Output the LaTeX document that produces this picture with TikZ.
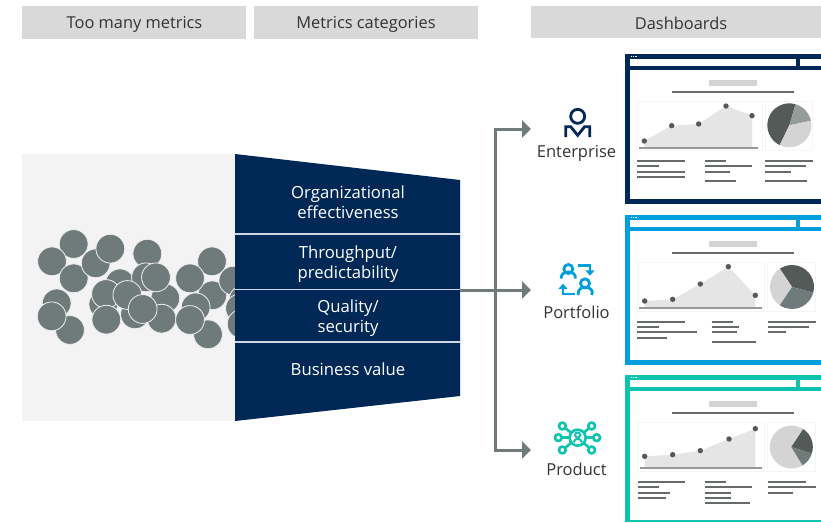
\documentclass[tikz,border=0pt]{standalone}
\usepackage{fontspec}
\setmainfont{Open Sans}
\usetikzlibrary{arrows.meta}
\definecolor{navy}{HTML}{002856}
\definecolor{skyb}{HTML}{009FDB}
\definecolor{teal2}{HTML}{0FC4AE}
\definecolor{hdr}{HTML}{D9D9D9}
\definecolor{pale}{HTML}{F3F3F3}
\definecolor{conn}{HTML}{6F7B7A}
\definecolor{ink}{HTML}{333333}
\definecolor{tline}{HTML}{666B6A}
\definecolor{pdark}{HTML}{545A58}
\definecolor{pmid}{HTML}{6F7B7A}
\definecolor{pmidl}{HTML}{939C99}
\definecolor{plight}{HTML}{D4D4D4}
\tikzset{
  zoomat/.style 2 args={shift={(#1,#2)},x=0.33333pt,y=-0.33333pt},
  hdrbox/.style={fill=hdr,draw=none,inner sep=0,text=ink,font=\fontsize{16.4}{18}\selectfont},
  rowtext/.style={text=white,align=center,font=\fontsize{16.7}{20}\selectfont,inner sep=0},
  lbl/.style={text=ink,font=\fontsize{16.5}{18}\selectfont,inner sep=0},
  divider/.style={draw=white!82!navy,line width=1.4pt},
  connector/.style={draw=conn,line width=3pt},
  connarrow/.style={connector,-{Triangle[length=9pt,width=17pt]}},
  textline/.style={draw=tline,line width=1.8pt},
  blob/.style={fill=conn,draw=white!88!conn,line width=0.8pt},
  panel/.style={draw=black!4,line width=0.6pt,fill=white},
  icon/.style={line width=2.8pt,line cap=butt,line join=miter},
}
\newcommand{\pieslice}[6]{%
  \begin{scope}[shift={(#1,#2)},x=1pt,y=1pt]
    \fill[#6] (0,0) -- (#4:#3) arc[start angle=#4,end angle=#5,radius=#3] -- cycle;
  \end{scope}}
\newcommand{\frameshape}[4]{%
  \fill[#1] (15,#2) rectangle (603,#4);
  \fill[white] (30,#2+17) rectangle (528,#2+36);
  \fill[white] (540,#2+17) rectangle (603,#2+36);
  \fill[white] (29,#2+49) rectangle (603,#3);
  \foreach \d in {32,39,46} \fill[white] (\d,#2+6) rectangle (\d+4,#2+9);
  \fill[plight] (268,#2+80) rectangle (410,#2+97);
  \draw[textline] (156,#2+116) -- (522,#2+116);
}
\newcommand{\chartdots}[1]{\foreach \a/\b in {#1} \fill[pdark] (\a,\b) circle[radius=2.7pt];}
\newcommand{\tlines}[1]{\foreach \a/\b/\c in {#1} \draw[textline] (\a,\c) -- (\b,\c);}
\begin{document}
\begin{tikzpicture}[x=1pt,y=-1pt]
\useasboundingbox (0,0) rectangle (821,522);
% headers
\fill[hdr] (22,6) rectangle (246,39);
\fill[hdr] (254,6) rectangle (478,39);
\fill[hdr] (531,6) rectangle (821,38);
\node[hdrbox,fill=none] (h1) at (134.5,24) {Too many metrics};
\node[hdrbox,fill=none] (h2) at (366,24) {Metrics categories};
\node[hdrbox,fill=none] (h3) at (681,23.5) {Dashboards};
% pale field
\fill[pale] (22,154) rectangle (235,421);
% blobs
\begin{scope}[zoomat={20}{220}]
\foreach \x/\y in {161/72,96/124,161/175,227/130,271/86,382/101,110/250,150/330,95/289,
  300/190,378/172,436/235,425/296,345/283,250/253,258/222,259/299,322/225,408/172,368/267,
  577/226,576/124,510/175,527/262,564/343,510/300,640/182,670/240,660/265,665/312}
  \draw[blob] (\x,\y) circle[radius=14.4pt];
\end{scope}
% funnel
\fill[navy] (235,154) -- (460,180) -- (460,396) -- (235,421) -- cycle;
\coordinate (dl1) at (235,234); \coordinate (dr1) at (460,234);
\coordinate (dl2) at (235,289.5); \coordinate (dr2) at (460,289.5);
\coordinate (dl3) at (235,342); \coordinate (dr3) at (460,342);
\draw[divider] (dl1) -- (dr1);
\draw[divider] (dl2) -- (dr2);
\draw[divider] (dl3) -- (dr3);
\node[rowtext] (r1) at (348,202.5) {Organizational\\effectiveness};
\node[rowtext] (r2) at (348,264) {Throughput/\\predictability};
\node[rowtext] (r3) at (348,318.5) {Quality/\\security};
\node[rowtext] (r4) at (348,369) {Business value};
% connectors
\coordinate (funnelout) at (460,290);
\coordinate (hub) at (495,290);
\coordinate (entin) at (531,129);
\coordinate (portin) at (531,290);
\coordinate (prodin) at (531,450);
\draw[connarrow] (hub) |- (entin);
\draw[connarrow] (hub) |- (prodin);
\draw[connarrow] (funnelout) -- (portin);
% labels
\node[lbl] (lent) at (576.5,153) {Enterprise};
\node[lbl] (lport) at (576.5,312.5) {Portfolio};
\node[lbl] (lprod) at (576.5,469.5) {Product};
% enterprise icon
\begin{scope}[zoomat={530}{100}]
\draw[navy,icon] (143,49) circle[radius=7pt];
\draw[navy,icon] (107,111) -- (107,80) -- (122,80) -- (143,106) -- (164,80) -- (179,80) -- (179,111);
\end{scope}
% portfolio icon
\begin{scope}[zoomat={530}{255}]
\draw[skyb,icon] (115,42) circle[radius=4.5pt];
\draw[skyb,icon] (94,71) -- (94,66) arc[start angle=180,end angle=0,x radius=7pt,y radius=5pt] -- (136,71);
\draw[skyb,icon] (145,31) -- (180,31) -- (180,52);
\fill[skyb] (166,46) -- (194,46) -- (180,62) -- cycle;
\draw[skyb,icon] (135,117) -- (99,117) -- (99,96);
\fill[skyb] (85,102) -- (113,102) -- (99,86) -- cycle;
\draw[skyb,icon] (165,85) circle[radius=4.5pt];
\draw[skyb,icon] (145,120) -- (145,112) arc[start angle=180,end angle=0,x radius=7pt,y radius=5pt] -- (185,120);
\end{scope}
% product icon
\begin{scope}[zoomat={530}{415}]
\foreach \x/\y in {97/33,185/33,85/68,200/68,97/105,185/105} {
  \draw[teal2,line width=2.6pt] (143,68) -- (\x,\y);
}
\fill[white] (143,68) circle[radius=8pt];
\draw[teal2,line width=2.6pt] (143,68) circle[radius=8pt];
\draw[teal2,line width=2pt] (143,60) circle[radius=2.6pt];
\draw[teal2,line width=2pt] (131,82) arc[start angle=180,end angle=0,x radius=4pt,y radius=3.5pt];
\foreach \x/\y in {97/33,185/33,85/68,200/68,97/105,185/105} {
  \draw[teal2,line width=2.6pt,fill=white] (\x,\y) circle[radius=3.4pt];
}
\end{scope}
% dashboard 1
\begin{scope}[zoomat={620}{45}]
\frameshape{navy}{26}{462}{477}
\draw[panel] (52,168) rectangle (427,316);
\draw[panel] (436,168) rectangle (578,316);
\fill[black!10] (73,309) -- (73,288) -- (155,242) -- (236,237) -- (318,183) -- (396,212) -- (396,309) -- cycle;
\draw[black!40,line width=1.6pt] (58,309) -- (414,309);
\chartdots{73/288,155/242,236/237,318/183,396/212}
\pieslice{508}{241}{22}{73.5}{244}{pdark}
\pieslice{508}{241}{22}{12}{73.5}{pmidl}
\pieslice{508}{241}{22}{244}{372}{plight}
\tlines{52/194/348,52/116/364,52/194/380,52/194/396,254/318/348,254/396/364,254/331/380,254/349/408,436/578/348,436/558/364,436/513/380,436/561/408}
\end{scope}
% dashboard 2
\begin{scope}[zoomat={620}{210}]
\frameshape{skyb}{14}{450}{465}
\draw[panel] (52,157) rectangle (433,304);
\draw[panel] (443,157) rectangle (585,304);
\fill[black!10] (74,294) -- (74,273) -- (158,268) -- (241,222) -- (325,170) -- (406,256) -- (406,294) -- cycle;
\draw[black!40,line width=1.6pt] (58,294) -- (425,294);
\chartdots{74/273,158/268,241/222,325/170,406/256}
\pieslice{516}{231}{22}{-15}{123.7}{pdark}
\pieslice{516}{231}{22}{123.7}{236.3}{plight}
\pieslice{516}{231}{22}{236.3}{345}{pmid}
\tlines{52/194/336,52/116/352,52/230/367,52/141/383,275/339/336,275/357/352,275/352/367,275/407/396,445/587/336,445/567/352,445/498/367}
\end{scope}
% dashboard 3
\begin{scope}[zoomat={620}{370}]
\frameshape{teal2}{14}{450}{456}
\draw[panel] (52,157) rectangle (433,304);
\draw[panel] (443,157) rectangle (585,304);
\fill[black!10] (74,294) -- (74,259) -- (158,254) -- (241,242) -- (327,207) -- (406,176) -- (406,294) -- cycle;
\draw[black!40,line width=1.6pt] (60,294) -- (425,294);
\chartdots{74/259,158/254,241/242,327/207,406/176}
\pieslice{514}{231}{21.5}{56.6}{301.4}{plight}
\pieslice{514}{231}{21.5}{-18}{56.6}{pdark}
\pieslice{514}{231}{21.5}{-58.6}{-18}{pmid}
\tlines{53/195/337,53/117/352,53/150/368,53/137/383,255/318/337,255/397/352,255/332/368,255/332/383,255/390/399,443/559/337,443/588/352,443/519/368}
\end{scope}
\end{tikzpicture}
\end{document}
